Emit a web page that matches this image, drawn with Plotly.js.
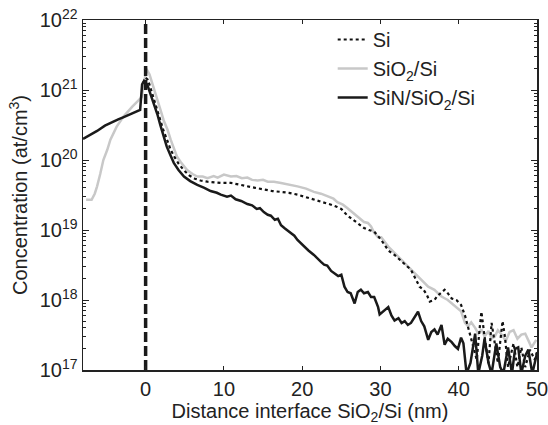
<!DOCTYPE html>
<html>
<head>
<meta charset="utf-8">
<script src="https://cdn.plot.ly/plotly-3.0.1.min.js"></script>
<style>html,body{margin:0;padding:0;background:#fff}#chart{width:548px;height:425px}</style>
</head>
<body>
<div id="chart"></div>
<script>
// SiN/SiO2/Si (black solid)
var sinX = [-8.0,-7.0,-6.2,-5.2,-4.3,-3.5,-2.8,-2.0,-1.1,-0.7,-0.45,-0.2,0.2,0.6,1.0,1.5,1.9,2.3,2.7,3.2,3.6,4.2,4.9,5.7,6.6,7.5,8.3,9.1,9.6,10.4,10.9,11.5,12.2,13.0,13.6,14.2,14.6,15.1,15.6,16.0,16.5,16.9,17.3,17.8,18.2,18.6,19.0,19.4,19.9,20.3,20.8,21.5,22.0,22.4,22.8,23.2,23.7,24.1,24.6,25.0,25.4,25.8,26.2,26.7,27.1,27.5,27.9,28.4,28.8,29.2,29.7,29.9,30.1,30.5,31.0,31.4,31.8,32.3,32.7,33.1,33.5,33.9,34.4,34.8,35.2,35.6,36.1,36.5,36.9,37.3,37.8,38.2,38.6,39.1,39.5,39.9,40.3,40.6,41.0,41.5,42.1,42.5,43.0,43.3,43.8,44.2,44.8,45.3,45.7,46.3,46.8,47.2,47.6,48.0,48.5,48.9,49.4,50.0];
var sinY = [2.0e20,2.3e20,2.6e20,3.1e20,3.5e20,3.8e20,4.1e20,4.5e20,4.9e20,5.2e20,1.2e21,1.35e21,1.2e21,8.9e20,6.5e20,4.5e20,3.1e20,2.2e20,1.55e20,1.15e20,9.1e19,7.2e19,5.8e19,5.0e19,4.4e19,4.0e19,3.6e19,3.4e19,3.2e19,3.0e19,3.1e19,2.75e19,2.6e19,2.35e19,2.25e19,2.0e19,2.05e19,1.8e19,1.65e19,1.6e19,1.4e19,1.45e19,1.17e19,1.05e19,9.8e18,8.9e18,8.3e18,7.2e18,6.3e18,5.8e18,5.1e18,4.4e18,3.8e18,3.5e18,3.2e18,3.1e18,2.6e18,2.4e18,2.2e18,2.3e18,1.55e18,1.3e18,1.25e18,8.9e17,1.3e18,1.4e18,1.25e18,1.3e18,1.1e18,1.1e18,7.9e17,6.2e17,6.5e17,7.1e17,7.9e17,6.0e17,5.1e17,5.5e17,4.7e17,5.0e17,4.4e17,4.7e17,5.8e17,6.8e17,5.0e17,4.2e17,2.7e17,3.5e17,3.8e17,3.2e17,4.4e17,2.3e17,2.8e17,2.5e17,2.2e17,2.0e17,2.9e17,2.4e17,8.9e16,1.26e17,3.3e17,8.9e16,1.6e17,2.8e17,1.26e17,8.9e16,2.4e17,1.1e17,8.9e16,2.1e17,8.9e16,2.0e17,2.1e17,8.9e16,1.6e17,1.95e17,8.9e16,1.74e17];

// Si (black dotted)
var siX = [-0.3,0.0,0.3,0.7,1.1,1.5,1.9,2.3,2.8,3.2,3.7,4.2,4.9,5.6,6.3,7.0,7.9,8.7,9.6,10.9,12.0,13.0,14.0,15.1,16.2,17.3,18.3,19.4,20.5,21.5,22.6,23.7,24.4,25.0,25.8,26.5,27.2,27.9,28.5,29.2,30.1,30.6,31.0,31.8,32.4,33.1,33.9,34.4,35.0,35.5,35.9,36.3,36.9,37.3,37.8,38.2,38.6,39.1,39.7,40.3,40.8,41.2,41.8,42.3,42.7,42.9,43.3,43.8,44.2,44.6,45.0,45.6,45.9,46.3,47.0,47.5,48.0,48.5,49.1,49.7,50.0];
var siY = [1.26e21,1.5e21,1.4e21,1.0e21,7.1e20,5.0e20,3.5e20,2.6e20,1.86e20,1.4e20,1.1e20,8.9e19,7.1e19,6.0e19,5.4e19,5.1e19,4.9e19,4.8e19,4.7e19,4.7e19,4.4e19,4.2e19,4.0e19,3.8e19,3.6e19,3.5e19,3.4e19,3.2e19,2.95e19,2.75e19,2.5e19,2.3e19,2.15e19,2.0e19,1.6e19,1.4e19,1.2e19,1.07e19,1.0e19,9.5e18,7.2e18,6.0e18,5.1e18,4.4e18,3.8e18,3.3e18,2.7e18,2.1e18,1.55e18,1.4e18,1.2e18,9.5e17,1.0e18,1.15e18,1.3e18,1.4e18,1.25e18,1.05e18,1.0e18,8.5e17,6.0e17,4.0e17,2.4e17,1.4e17,4.2e17,6.8e17,3.0e17,1.26e17,4.7e17,2.5e17,1.26e17,5.0e17,3.0e17,1.1e17,2.4e17,1.1e17,2.1e17,1.1e17,1.95e17,1.4e17,1.8e17];

// SiO2/Si (light grey)
var sioX = [-7.6,-6.9,-6.5,-6.2,-5.8,-5.4,-4.9,-4.5,-3.7,-2.8,-1.7,-0.9,-0.5,-0.2,0.1,0.5,1.0,1.5,1.9,2.3,2.8,3.2,3.6,4.0,4.5,5.3,6.0,6.6,7.3,7.9,8.7,9.2,10.0,10.9,11.6,12.3,13.0,13.6,14.3,15.0,15.6,16.4,17.3,18.3,19.4,20.5,21.5,22.4,23.3,24.0,24.5,25.2,25.8,26.4,27.1,27.5,27.9,28.4,28.8,29.2,29.7,30.1,30.6,31.0,31.8,32.7,33.5,34.4,35.2,36.1,36.9,37.8,38.6,39.5,40.3,40.8,41.2,41.6,42.1,42.5,42.9,43.3,43.8,44.2,44.6,45.0,45.5,46.0,46.5,47.0,47.5,48.0,48.5,49.0,49.3,49.9];
var sioY = [2.7e19,2.7e19,3.3e19,4.2e19,6.3e19,1.0e20,1.4e20,1.95e20,3.0e20,4.2e20,5.8e20,7.2e20,7.9e20,1.26e21,2.0e21,1.66e21,1.12e21,7.2e20,5.2e20,3.7e20,2.7e20,1.95e20,1.45e20,1.12e20,9.3e19,7.2e19,6.3e19,5.8e19,5.8e19,5.5e19,5.9e19,5.6e19,6.2e19,5.8e19,5.9e19,5.5e19,5.6e19,5.2e19,5.1e19,5.2e19,4.9e19,4.9e19,4.7e19,4.5e19,4.2e19,3.9e19,3.5e19,3.3e19,3.0e19,2.8e19,2.5e19,2.3e19,2.05e19,1.8e19,1.55e19,1.4e19,1.3e19,1.26e19,1.12e19,9.1e18,7.9e18,7.9e18,6.6e18,5.8e18,4.7e18,3.7e18,3.0e18,2.4e18,1.95e18,1.55e18,1.4e18,1.12e18,1.0e18,8.3e17,6.9e17,4.7e17,4.2e17,4.8e17,4.0e17,3.3e17,3.8e17,3.0e17,3.6e17,2.8e17,3.0e17,3.7e17,3.2e17,2.6e17,3.5e17,3.7e17,2.8e17,3.2e17,3.3e17,2.5e17,2.1e17,2.7e17];

// Interface marker and axis ticks
var interfaceX = [0, 0];
var interfaceY = [1e17, 1e22];
var yTickVals = [1e17, 1e18, 1e19, 1e20, 1e21, 1e22];
var yTickText = ['10<sup>17</sup>','10<sup>18</sup>','10<sup>19</sup>','10<sup>20</sup>','10<sup>21</sup>','10<sup>22</sup>'];
var xTickVals = [0, 10, 20, 30, 40, 50];

var traces = [
  {x: sioX, y: sioY, mode: 'lines', name: 'SiO<sub>2</sub>/Si', legendrank: 2,
   line: {color: '#c8c8c8', width: 2.5}},
  {x: siX, y: siY, mode: 'lines', name: 'Si', legendrank: 1,
   line: {color: '#111', width: 2.2, dash: 'dot'}},
  {x: sinX, y: sinY, mode: 'lines', name: 'SiN/SiO<sub>2</sub>/Si', legendrank: 3,
   line: {color: '#1a1a1a', width: 2.5}},
  {x: interfaceX, y: interfaceY, mode: 'lines', showlegend: false, hoverinfo: 'skip',
   line: {color: '#1a1a1a', width: 3.5, dash: '10px,4px'}}
];

var font = {family: 'Liberation Sans, Arial, sans-serif', size: 20, color: '#222'};

var layout = {
  width: 548, height: 425,
  margin: {l: 83, r: 11, t: 20, b: 55},
  paper_bgcolor: '#fff', plot_bgcolor: '#fff',
  font: font,
  showlegend: true,
  legend: {x: 0.55, y: 1.0, xanchor: 'left', yanchor: 'top', bgcolor: 'rgba(0,0,0,0)',
           font: font, tracegroupgap: 0},
  xaxis: {
    range: [-8, 50], tickvals: xTickVals, ticks: 'inside', ticklen: 4, tickwidth: 1,
    tickcolor: '#222', showline: true, linecolor: '#222', linewidth: 1.5, mirror: 'ticks',
    showgrid: false, zeroline: false, tickfont: font, ticklabeloverflow: 'allow',
    title: {text: 'Distance interface SiO<sub>2</sub>/Si (nm)', font: font, standoff: 4}
  },
  yaxis: {
    type: 'log', range: [17, 22], tickvals: yTickVals, ticktext: yTickText,
    ticks: 'inside', ticklen: 6, tickwidth: 1, tickcolor: '#222',
    minor: {ticks: 'inside', ticklen: 3, tickcolor: '#222', dtick: 'D1', showgrid: false},
    showline: true, linecolor: '#222', linewidth: 1.5, mirror: 'ticks',
    showgrid: false, zeroline: false, tickfont: font,
    title: {text: 'Concentration (at/cm<sup>3</sup>)', font: font, standoff: 6}
  }
};

Plotly.newPlot('chart', traces, layout, {staticPlot: true, displayModeBar: false});
</script>
</body>
</html>
